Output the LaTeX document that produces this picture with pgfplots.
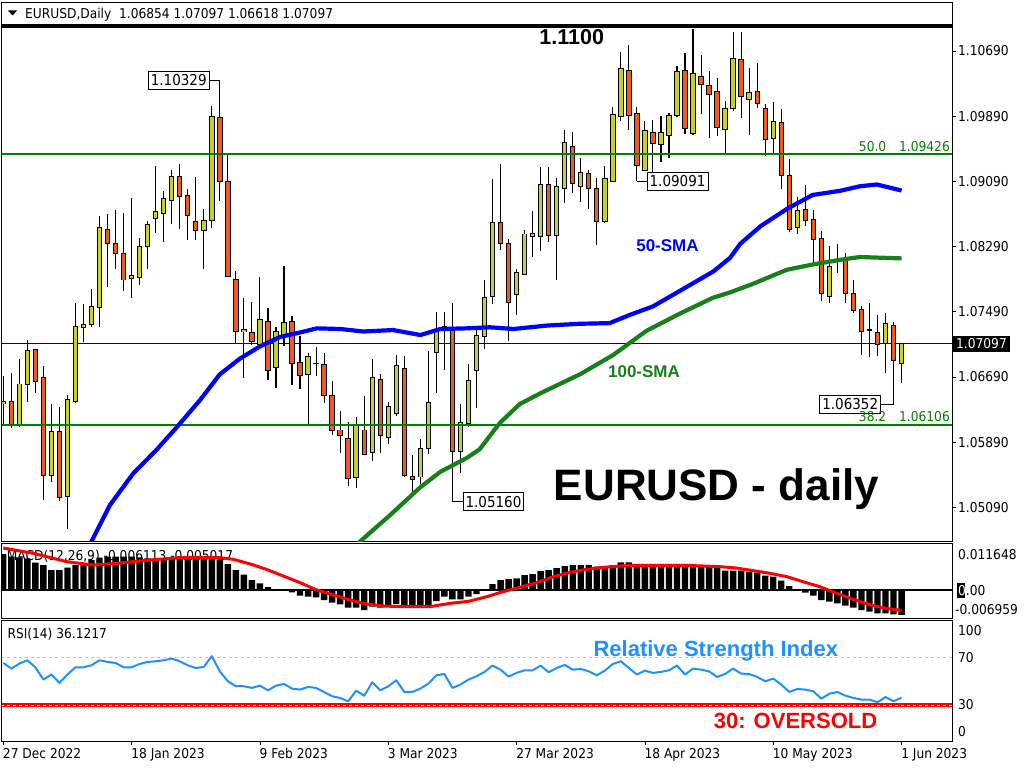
\documentclass[border=0pt]{standalone}
\usepackage{fontspec}
\setmainfont{Liberation Sans}
\newfontfamily\mt{DejaVu Sans Condensed}
\usepackage{pgfplots}
\usepackage{pgfplotstable}
\pgfplotsset{compat=1.18}
\definecolor{bull}{RGB}{196,208,46}
\definecolor{bear}{RGB}{240,90,32}
\definecolor{fibgreen}{RGB}{0,128,0}
\definecolor{smagreen}{RGB}{24,128,24}
\definecolor{rsiblue}{RGB}{30,144,255}
\definecolor{pricenavy}{RGB}{0,0,128}
\newcommand{\sm}{\mt\fontsize{13.6}{16}\selectfont}

\pgfplotstableread{
i o h l c
0 1.06360 1.06702 1.06104 1.06394
1 1.06394 1.06745 1.06061 1.06112
2 1.06104 1.06915 1.06082 1.06604
3 1.06604 1.07138 1.06381 1.07022
4 1.07022 1.07022 1.06488 1.06638
5 1.06681 1.06830 1.05185 1.05476
6 1.05476 1.06360 1.05399 1.06027
7 1.06027 1.06317 1.05164 1.05207
8 1.05228 1.06475 1.04831 1.06420
9 1.06394 1.07599 1.06369 1.07317
10 1.07300 1.07586 1.07116 1.07330
11 1.07330 1.07770 1.07300 1.07561
12 1.07539 1.08667 1.07300 1.08522
13 1.08496 1.08684 1.07800 1.08325
14 1.08325 1.08744 1.08018 1.08210
15 1.08201 1.08697 1.07744 1.07881
16 1.07894 1.08881 1.07659 1.07932
17 1.07907 1.08398 1.07813 1.08287
18 1.08287 1.08599 1.08013 1.08560
19 1.08641 1.09274 1.08462 1.08723
20 1.08701 1.08975 1.08347 1.08876
21 1.08851 1.09235 1.08569 1.09150
22 1.09150 1.09299 1.08505 1.08910
23 1.08915 1.09000 1.08368 1.08667
24 1.08599 1.09141 1.08377 1.08492
25 1.08483 1.08748 1.08013 1.08607
26 1.08607 1.10013 1.08517 1.09885
27 1.09872 1.10329 1.08851 1.09094
28 1.09086 1.09415 1.07911 1.07928
29 1.07881 1.07996 1.07108 1.07244
30 1.07244 1.07663 1.06680 1.07270
31 1.07232 1.07616 1.07086 1.07129
32 1.07086 1.07911 1.07065 1.07394
33 1.07368 1.07531 1.06659 1.06774
34 1.06809 1.07300 1.06552 1.07244
35 1.07193 1.08048 1.07065 1.07355
36 1.07368 1.07441 1.06595 1.06860
37 1.06873 1.07193 1.06539 1.06715
38 1.06723 1.06988 1.06112 1.06937
39 1.06862 1.07052 1.06702 1.06858
40 1.06839 1.06988 1.06369 1.06467
41 1.06458 1.06646 1.05984 1.06040
42 1.06040 1.06275 1.05762 1.05967
43 1.05941 1.06138 1.05356 1.05450
44 1.05463 1.06202 1.05322 1.06112
45 1.06040 1.06454 1.05728 1.05741
46 1.05762 1.06915 1.05655 1.06689
47 1.06659 1.06732 1.05762 1.05967
48 1.05954 1.06381 1.05869 1.06326
49 1.06245 1.06958 1.06211 1.06830
50 1.06800 1.06950 1.05463 1.05484
51 1.05472 1.05732 1.05236 1.05437
52 1.05463 1.05924 1.05378 1.05817
53 1.05817 1.07014 1.05741 1.06381
54 1.06992 1.07492 1.06497 1.07279
55 1.07279 1.07492 1.06779 1.07313
56 1.07300 1.07599 1.05160 1.05771
57 1.05771 1.06360 1.05506 1.06138
58 1.06125 1.06851 1.06082 1.06651
59 1.06774 1.07279 1.06309 1.07206
60 1.07193 1.07885 1.07031 1.07672
61 1.07672 1.09124 1.07586 1.08582
62 1.08582 1.09299 1.08248 1.08325
63 1.08325 1.08385 1.07129 1.07599
64 1.07706 1.08013 1.07449 1.07975
65 1.07954 1.08488 1.07954 1.08445
66 1.08419 1.08723 1.08167 1.08445
67 1.08411 1.09265 1.08240 1.09051
68 1.09051 1.09265 1.08347 1.08424
69 1.08432 1.09128 1.07877 1.09022
70 1.09009 1.09726 1.08829 1.09564
71 1.09513 1.09692 1.08945 1.09064
72 1.09022 1.09372 1.08838 1.09197
73 1.09184 1.09235 1.08752 1.09009
74 1.09000 1.09137 1.08304 1.08603
75 1.08603 1.09282 1.08582 1.09120
76 1.09094 1.10004 1.09081 1.09906
77 1.09893 1.10675 1.09833 1.10474
78 1.10453 1.10760 1.09726 1.09893
79 1.09927 1.09999 1.09091 1.09282
80 1.09231 1.09829 1.09222 1.09714
81 1.09692 1.09842 1.09201 1.09556
82 1.09543 1.09897 1.09329 1.09692
83 1.09658 1.09927 1.09372 1.09897
84 1.09897 1.10504 1.09885 1.10440
85 1.10453 1.10666 1.09671 1.09744
86 1.09684 1.10961 1.09658 1.10414
87 1.10376 1.10641 1.09919 1.10278
88 1.10269 1.10448 1.09628 1.10162
89 1.10192 1.10354 1.09650 1.09752
90 1.09726 1.10077 1.09436 1.09991
91 1.09983 1.10923 1.09957 1.10598
92 1.10581 1.10923 1.09863 1.10132
93 1.10098 1.10478 1.09662 1.10179
94 1.10188 1.10538 1.09991 1.10043
95 1.09991 1.10034 1.09402 1.09603
96 1.09620 1.10068 1.09436 1.09825
97 1.09820 1.09983 1.08996 1.09167
98 1.09167 1.09363 1.08475 1.08496
99 1.08522 1.08902 1.08445 1.08731
100 1.08744 1.09051 1.08547 1.08611
101 1.08624 1.08735 1.08102 1.08377
102 1.08390 1.08484 1.07628 1.07714
103 1.07675 1.08297 1.07602 1.08052
104 1.08130 1.08318 1.07962 1.08120
105 1.08159 1.08215 1.07602 1.07717
106 1.07717 1.07880 1.07471 1.07512
107 1.07520 1.07561 1.06963 1.07245
108 1.07268 1.07594 1.06930 1.07258
109 1.07238 1.07451 1.06949 1.07095
110 1.07103 1.07471 1.06735 1.07349
111 1.07316 1.07365 1.06352 1.06890
112 1.06854 1.07097 1.06618 1.07097
}\candles

\pgfplotstableread{
i v
0 0.008994
1 0.008332
2 0.008167
3 0.007918
4 0.006843
5 0.006265
6 0.005024
7 0.005024
8 0.005603
9 0.006265
10 0.006513
11 0.007505
12 0.008084
13 0.008332
14 0.008332
15 0.008332
16 0.008332
17 0.008167
18 0.007918
19 0.007918
20 0.007753
21 0.008167
22 0.008332
23 0.008332
24 0.008332
25 0.007918
26 0.007918
27 0.007670
28 0.006513
29 0.005024
30 0.003866
31 0.002543
32 0.001716
33 0.000806
34 0.000227
35 0.000062
36 -0.000517
37 -0.001344
38 -0.001592
39 -0.001757
40 -0.002419
41 -0.003081
42 -0.003494
43 -0.004321
44 -0.004321
45 -0.004900
46 -0.004073
47 -0.004321
48 -0.003825
49 -0.003411
50 -0.003659
51 -0.003659
52 -0.003659
53 -0.003659
54 -0.002667
55 -0.001592
56 -0.002254
57 -0.002254
58 -0.001592
59 -0.000930
60 0.000150
61 0.001551
62 0.002543
63 0.002791
64 0.002956
65 0.003783
66 0.004032
67 0.004776
68 0.005024
69 0.005520
70 0.006016
71 0.006265
72 0.006265
73 0.006265
74 0.005851
75 0.006016
76 0.006265
77 0.006926
78 0.006926
79 0.006265
80 0.006265
81 0.006265
82 0.006265
83 0.006265
84 0.006265
85 0.006265
86 0.006265
87 0.006016
88 0.005851
89 0.005851
90 0.004858
91 0.004858
92 0.004858
93 0.004610
94 0.004362
95 0.003618
96 0.003370
97 0.002377
98 0.001054
99 0.000062
100 -0.000600
101 -0.001344
102 -0.002419
103 -0.002832
104 -0.003246
105 -0.003825
106 -0.004321
107 -0.004900
108 -0.005313
109 -0.005727
110 -0.005727
111 -0.005975
112 -0.006113
}\macdtab

\pgfplotsset{
  panel/.style={anchor=south west, scale only axis, width=950pt,
    xmin=-0.162, xmax=118.29, clip mode=individual,
    axis line style={black, line width=1pt}, xtick=\empty, ytick=\empty},
  wickst/.style={forget plot, draw=none, mark=none,
    error bars/y dir=both, error bars/y explicit, error bars/error mark=none,
    error bars/error bar style={draw=black, line width=1.1pt}},
  bodyst/.style 2 args={forget plot, draw=none, mark=none,
    error bars/y dir=both, error bars/y explicit, error bars/error mark=none,
    error bars/error bar style={draw=#1, line width=#2}},
  hline/.style={forget plot, mark=none},
}

\begin{document}
\begin{tikzpicture}[x=1pt,y=1pt]
\useasboundingbox (0,0) rectangle (1024,-768);
\fill[white] (0,0) rectangle (1024,-768);

% text behind indicator panels
\node[anchor=base west, inner sep=0pt, font=\sm] at (6.7,-560.5) {MACD(12,26,9) -0.006113 -0.005017};
\node[anchor=base west, inner sep=0pt, font=\sm] at (7.3,-638.7) {RSI(14) 36.1217};

% ---------------- main price panel ----------------
\begin{axis}[panel, at={(2pt,-541.5pt)}, height=539.5pt,
  ymin=1.046714, ymax=1.112911,
  ytick={1.0509,1.0589,1.0669,1.0749,1.0829,1.0909,1.0989,1.1069},
  yticklabels={1.05090,1.05890,1.06690,1.07490,1.08290,1.09090,1.09890,1.10690},
  ytick pos=right, tick align=outside, major tick length=4pt,
  tick style={black, line width=0.8pt},
  yticklabel style={font=\sm, anchor=west, inner sep=0pt, xshift=2pt}]

\addplot[hline, pricenavy, line width=0.9pt] coordinates {(-1,1.07097) (120,1.07097)};

% wicks
\addplot[wickst] table[x=i, y=c, y error plus expr=\thisrow{h}-\thisrow{c}, y error minus expr=\thisrow{c}-\thisrow{l}] {\candles};
% body outlines
\addplot[bodyst={black}{5.4pt}] table[x=i, y expr=(\thisrow{o}+\thisrow{c})/2, y error expr={abs(\thisrow{c}-\thisrow{o})/2+0.00006}] {\candles};
% bullish bodies
\addplot[bodyst={bull}{3.4pt}, y filter/.expression={\thisrow{c}>=\thisrow{o} ? y : nan}] table[x=i, y expr=(\thisrow{o}+\thisrow{c})/2, y error expr={max(abs(\thisrow{c}-\thisrow{o})/2-0.00006,0)}] {\candles};
% bearish bodies
\addplot[bodyst={bear}{3.4pt}, y filter/.expression={\thisrow{c}<\thisrow{o} ? y : nan}] table[x=i, y expr=(\thisrow{o}+\thisrow{c})/2, y error expr={max(abs(\thisrow{c}-\thisrow{o})/2-0.00006,0)}] {\candles};

% fibonacci levels and 1.1100 line
\addplot[hline, fibgreen, line width=2pt] coordinates {(-1,1.09426) (120,1.09426)};
\addplot[hline, fibgreen, line width=2pt] coordinates {(-1,1.06106) (120,1.06106)};
\addplot[hline, black, line width=4pt] coordinates {(-1,1.1100) (120,1.1100)};

% 50-SMA
\addplot[hline, blue, line width=4.2pt, line join=round] coordinates {
(10.6,1.0459) (11.0,1.04673) (13.3,1.05119) (16.2,1.05506) (19.2,1.05806) (21.7,1.06082)
(24.5,1.06403) (27.0,1.06723) (29.5,1.06915) (32.0,1.07065) (34.5,1.07181) (37.0,1.07236)
(39.1,1.07287) (42.0,1.07279) (44.9,1.07248) (48.6,1.07266) (52.0,1.07205) (54.5,1.07279)
(57.8,1.07287) (60.7,1.07300) (63.6,1.07279) (67.8,1.07321) (71.9,1.07343) (75.6,1.07351)
(78.1,1.07451) (81.0,1.07556) (84.4,1.07749) (88.5,1.07983) (90.6,1.08150) (91.9,1.08325)
(94.4,1.08539) (97.7,1.08752) (100.9,1.08923) (104.3,1.08974) (106.8,1.09030) (108.9,1.09052)
(112,1.08978)};
% 100-SMA
\addplot[hline, smagreen, line width=4.2pt, line join=round] coordinates {
(43.5,1.04587) (44.5,1.04673) (48.2,1.04993) (51.96,1.05334) (54.5,1.05527) (57.8,1.05697)
(59.4,1.05804) (61.9,1.06125) (64.4,1.06358) (66.9,1.06487) (71.9,1.06723) (76.0,1.06957)
(80.2,1.07257) (84.4,1.07470) (88.5,1.07663) (90.6,1.07727) (93.5,1.07834) (97.7,1.08006)
(100.9,1.08070) (104.7,1.08133) (106.8,1.08162) (112,1.08145)};

% price labels with connectors
\draw[black, line width=0.8pt] (axis cs:25.71,1.10329) -- (axis cs:27,1.10329);
\node[draw=black, line width=0.8pt, fill=white, anchor=east, font=\mt\fontsize{15}{18}\selectfont, inner xsep=2.5pt, inner ysep=0pt, minimum height=18pt] at (axis cs:25.71,1.10329) {1.10329};
\draw[black, line width=0.8pt] (axis cs:79,1.09091) -- (axis cs:80.23,1.09091);
\node[draw=black, line width=0.8pt, fill=white, anchor=west, font=\mt\fontsize{15}{18}\selectfont, inner xsep=2.5pt, inner ysep=0pt, minimum height=18pt] at (axis cs:80.23,1.09091) {1.09091};
\draw[black, line width=0.8pt] (axis cs:56,1.05160) -- (axis cs:57.28,1.05160);
\node[draw=black, line width=0.8pt, fill=white, anchor=west, font=\mt\fontsize{15}{18}\selectfont, inner xsep=2.5pt, inner ysep=0pt, minimum height=18pt] at (axis cs:57.28,1.05160) {1.05160};
\draw[black, line width=0.8pt] (axis cs:109.44,1.06352) -- (axis cs:111,1.06352);
\node[draw=black, line width=0.8pt, fill=white, anchor=east, font=\mt\fontsize{15}{18}\selectfont, inner xsep=2.5pt, inner ysep=0pt, minimum height=18pt] at (axis cs:109.44,1.06352) {1.06352};

% current price tag
\node[fill=black, text=white, anchor=west, font=\sm, inner xsep=3pt, inner ysep=3pt, xshift=1pt] at (axis cs:118.29,1.07097) {1.07097};
\end{axis}

% ---------------- MACD panel ----------------
\begin{axis}[panel, at={(2pt,-618.3pt)}, height=75pt,
  ymin=-0.006959, ymax=0.011648]
\addplot[forget plot, ybar, bar width=6.4pt, fill=black, draw=none] table[x=i, y=v] {\macdtab};
\addplot[hline, black, line width=1.7pt] coordinates {(-1,0) (120,0)};
\addplot[hline, red, line width=3pt, line join=round] coordinates {
(0,0.01048) (3.75,0.00916) (7.9,0.00709) (11.2,0.00626) (14.1,0.00668) (18.3,0.00751)
(22.5,0.00817) (26.6,0.00817) (28.7,0.00767) (30.8,0.00651) (32.8,0.00519) (34.9,0.00354)
(37,0.00188) (39.1,0.00006) (41.2,-0.00118) (43.2,-0.00242) (45.3,-0.00341) (47.4,-0.00391)
(49.5,-0.00407) (53.2,-0.00407) (55.7,-0.00325) (58,-0.00275) (60.3,-0.00159) (62.3,-0.00035)
(64.4,0.00072) (66.5,0.00188) (68.6,0.00337) (70.7,0.00445) (72.7,0.00519) (74.8,0.00568)
(76.9,0.00602) (79,0.00618) (85.2,0.00618) (89.4,0.00585) (91.4,0.00552) (93.5,0.00486)
(95.6,0.00420) (97.7,0.00337) (99.7,0.00213) (101.8,0.00089) (103.9,-0.00077) (106,-0.00225)
(108.1,-0.00366) (110.1,-0.00449) (112,-0.005017)};
\end{axis}

% ---------------- RSI panel ----------------
\begin{axis}[panel, at={(2pt,-741pt)}, height=120.5pt,
  ymin=-0.2, ymax=100.8,
  xtick={0,16,32,48,64,80,96,112},
  xticklabels={27 Dec 2022,18 Jan 2023,9 Feb 2023,3 Mar 2023,27 Mar 2023,18 Apr 2023,10 May 2023,1 Jun 2023},
  xtick pos=bottom, tick align=outside, major tick length=4pt,
  tick style={black, line width=0.8pt},
  xticklabel style={font=\sm, anchor=north west, inner sep=0pt, xshift=-0.5pt, yshift=-3pt}]
\addplot[hline, color={rgb,255:red,192;green,192;blue,192}, dash pattern=on 3pt off 3pt, line width=0.8pt] coordinates {(-1,70) (120,70)};
\addplot[hline, red, line width=3.6pt] coordinates {(-1,30) (120,30)};
\addplot[hline, white, dash pattern=on 3pt off 3pt, line width=0.8pt] coordinates {(-1,30) (120,30)};
\addplot[hline, rsiblue, line width=2pt, line join=round] coordinates {
(0,65.2) (1,60.5) (2,64.7) (3,67.5) (4,61.6) (5,51.3) (6,55.5) (7,48.5) (8,55.5) (9,61.6)
(10,61.6) (11,63.3) (12,67.5) (13,66.1) (14,65.2) (15,61.6) (16,61.6) (17,64.4) (18,66.1) (19,66.6)
(20,67.5) (21,68.9) (22,66.6) (23,63.3) (24,61.0) (25,61.9) (26,70.9) (27,58.2) (28,49.9) (29,45.7)
(30,45.7) (31,44.3) (32,46.2) (33,42.3) (34,46.2) (35,47.6) (36,43.7) (37,42.9) (38,45.1) (39,44.3)
(40,40.9) (41,37.3) (42,35.9) (43,33.1) (44,42.0) (45,37.8) (46,49.0) (47,42.3) (48,45.7) (49,50.7)
(50,40.9) (51,40.9) (52,43.7) (53,47.9) (54,54.9) (55,56.0) (56,44.3) (57,47.1) (58,51.3) (59,54.1)
(60,57.7) (61,63.0) (62,59.6) (63,53.8) (64,56.9) (65,59.1) (66,59.1) (67,63.0) (68,57.4) (69,61.0)
(70,63.6) (71,59.6) (72,60.2) (73,58.2) (74,54.9) (75,58.8) (76,64.4) (77,66.6) (78,61.0) (79,55.5)
(80,58.8) (81,56.9) (82,57.7) (83,59.1) (84,63.0) (85,55.5) (86,60.5) (87,59.6) (88,58.2) (89,53.5)
(90,56.0) (91,60.5) (92,56.3) (93,56.0) (94,53.5) (95,49.9) (96,52.1) (97,47.1) (98,40.9) (99,43.4)
(100,42.9) (101,41.5) (102,35.3) (103,39.5) (104,40.9) (105,37.8) (106,35.9) (107,34.5) (108,34.5) (109,32.3)
(110,36.7) (111,33.1) (112,36.12)};
\end{axis}

% ---------------- header and annotations ----------------
\fill[black] (8,-10.5) -- (17,-10.5) -- (12.5,-15.5) -- cycle;
\node[anchor=base west, inner sep=0pt, font=\sm] at (25,-18.5) {EURUSD,Daily\ \ 1.06854 1.07097 1.06618 1.07097};

\node[anchor=base east, inner sep=0pt, font=\sm, text=fibgreen] at (950,-151.5) {50.0\hspace{13pt}1.09426};
\node[anchor=base east, inner sep=0pt, font=\sm, text=fibgreen] at (950,-421.3) {38.2\hspace{13pt}1.06106};

\node[anchor=base, inner sep=0pt, font=\bfseries\fontsize{21.5}{24}\selectfont] at (571.7,-45) {1.1100};
\node[anchor=base, inner sep=0pt, font=\bfseries\fontsize{17}{20}\selectfont, text=blue] at (667.5,-251.4) {50-SMA};
\node[anchor=base, inner sep=0pt, font=\bfseries\fontsize{17}{20}\selectfont, text=smagreen] at (644,-377) {100-SMA};
\node[anchor=base, inner sep=0pt, font=\bfseries\fontsize{44}{50}\selectfont] at (716.5,-500) {EURUSD - daily};
\node[anchor=base, inner sep=0pt, font=\bfseries\fontsize{22}{26}\selectfont, text=rsiblue] at (715.8,-656.3) {Relative Strength Index};
\node[anchor=base, inner sep=0pt, font=\bfseries\fontsize{22}{26}\selectfont, text=red] at (795.5,-728) {30: OVERSOLD};

% indicator scales
\node[anchor=base west, inner sep=0pt, font=\sm] at (958,-559) {0.011648};
\fill[black] (956.5,-583.3) rectangle (965.4,-598.3);
\node[anchor=base west, inner sep=0pt, font=\sm] at (958,-595.6) {\textcolor{white}{0}.00};
\node[anchor=base west, inner sep=0pt, font=\sm] at (955,-614) {-0.006959};
\node[anchor=base west, inner sep=0pt, font=\sm] at (958,-635.6) {100};
\node[anchor=base west, inner sep=0pt, font=\sm] at (958,-662.2) {70};
\node[anchor=base west, inner sep=0pt, font=\sm] at (958,-709.9) {30};
\node[anchor=base west, inner sep=0pt, font=\sm] at (958,-736.9) {0};
\end{tikzpicture}
\end{document}
